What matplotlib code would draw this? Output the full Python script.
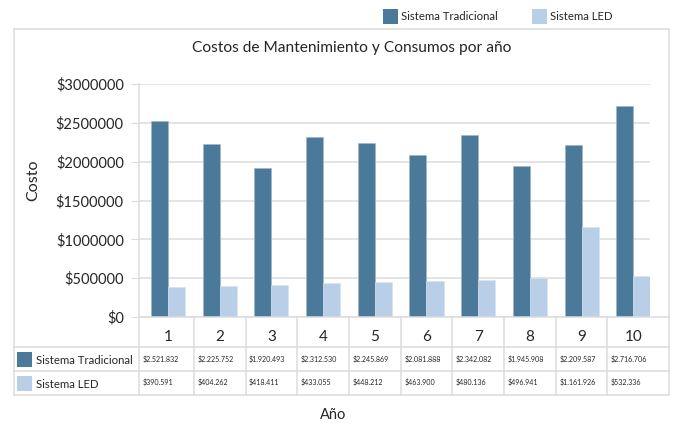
import matplotlib
matplotlib.use("Agg")
import matplotlib.pyplot as plt
from matplotlib.patches import Rectangle
from matplotlib.lines import Line2D
from matplotlib.ticker import FuncFormatter

# ---------------- data ----------------
years = ["1", "2", "3", "4", "5", "6", "7", "8", "9", "10"]
series_names = ["Sistema Tradicional", "Sistema LED"]
tradicional = [2521832, 2225752, 1920493, 2312530, 2245869,
               2081888, 2342082, 1945908, 2209587, 2716706]
led = [390591, 404262, 418411, 433055, 448212,
       463900, 480136, 496941, 1161926, 532336]
y_ticks = [0, 500000, 1000000, 1500000, 2000000, 2500000, 3000000]

title = "Costos de Mantenimiento y Consumos por año"
y_label = "Costo"
x_label = "Año"

# ---------------- style ----------------
C_TRAD = "#4b7999"
C_LED = "#b9cfe7"
C_GRID = "#dcdcdc"
C_TEXT = "#262626"
FONT = ["Lato", "DejaVu Sans"]
plt.rcParams["font.family"] = FONT

W, H = 673, 425
fig = plt.figure(figsize=(W / 100, H / 100), dpi=100)

def fx(px):
    return px / W

def fy(py):
    return 1 - py / H

# axes geometry (pixels)
ax_l, ax_r, ax_t, ax_b = 139, 650, 84, 317
ax = fig.add_axes([fx(ax_l), fy(ax_b), fx(ax_r - ax_l), (ax_b - ax_t) / H])

n = len(years)
pos = list(range(n))
bw = 0.33
ax.bar([p - bw / 2 for p in pos], tradicional, width=bw, color=C_TRAD,
       edgecolor="#9fb7cc", linewidth=0.4, label=series_names[0], zorder=3)
ax.bar([p + bw / 2 for p in pos], led, width=bw, color=C_LED,
       edgecolor="#d6e3f1", linewidth=0.4, label=series_names[1], zorder=3)

spacing = 51.7
c0 = 168
ax.set_xlim((ax_l - c0) / spacing, (ax_r - c0) / spacing)
ax.set_ylim(0, 3000000)
ax.set_yticks(y_ticks)
ax.yaxis.set_major_formatter(FuncFormatter(lambda v, p: f"${int(v)}"))
ax.tick_params(axis="y", length=6, color=C_GRID, labelsize=10.5,
               labelcolor=C_TEXT, pad=5)
ax.set_xticks(pos)
ax.set_xticklabels(years)
ax.tick_params(axis="x", length=0, labelsize=11, labelcolor=C_TEXT, pad=9.5)
ax.grid(axis="y", color=C_GRID, linewidth=1.1, zorder=0)
for s in ["top", "right", "bottom"]:
    ax.spines[s].set_visible(False)
ax.spines["left"].set_color(C_GRID)
ax.spines["left"].set_linewidth(1.1)
ax.set_facecolor("none")

fig.text(fx(33), fy(180), y_label, rotation=90, ha="center", va="center",
         fontsize=11.5, color=C_TEXT)
fig.text(fx(352), fy(48), title, ha="center", va="center",
         fontsize=11.2, color=C_TEXT)
fig.text(fx(333), fy(415), x_label, ha="center", va="center",
         fontsize=10.5, color=C_TEXT)

# ---------------- table & frame ----------------
box_l, box_r, box_t, box_b = 14, 669, 29, 395
row1, row2 = 346.5, 371

def hline(y, x0, x1):
    fig.add_artist(Line2D([fx(x0), fx(x1)], [fy(y), fy(y)],
                          color=C_GRID, linewidth=1.1))

def vline(x, y0, y1):
    fig.add_artist(Line2D([fx(x), fx(x)], [fy(y0), fy(y1)],
                          color=C_GRID, linewidth=1.1))

# outer box
hline(box_t, box_l, box_r)
hline(box_b, box_l, box_r)
vline(box_l, box_t, box_b)
vline(box_r, box_t, box_b)
hline(ax_b, ax_l, box_r)
hline(row1, box_l, box_r)
hline(row2, box_l, box_r)
vline(ax_l, ax_b, box_b)

bounds = [ax_l] + [c0 + spacing * (i + 0.5) for i in range(n - 1)] + [box_r]
for b in bounds[1:-1]:
    vline(b, ax_b, box_b)

def fmt(v):
    return "$" + f"{v:,}".replace(",", ".")

for i in range(n):
    fig.text(fx(bounds[i] + 3.5), fy(359), fmt(tradicional[i]), ha="left",
             va="center", fontsize=5.1, color=C_TEXT)
    fig.text(fx(bounds[i] + 3.5), fy(382), fmt(led[i]), ha="left",
             va="center", fontsize=5.1, color=C_TEXT)

for (y0, col, name) in [(352, C_TRAD, series_names[0]), (376, C_LED, series_names[1])]:
    fig.add_artist(Rectangle((fx(17), fy(y0 + 15)), fx(15), 15 / H,
                             facecolor=col, edgecolor="none"))
    fig.text(fx(36), fy(y0 + 8), name, ha="left", va="center",
             fontsize=8.2, color=C_TEXT)

# ---------------- top legend ----------------
for (x0, col, name) in [(383, C_TRAD, series_names[0]), (532, C_LED, series_names[1])]:
    fig.add_artist(Rectangle((fx(x0), fy(24)), fx(15), 15 / H,
                             facecolor=col, edgecolor="none"))
    fig.text(fx(x0 + 18), fy(16.5), name, ha="left", va="center",
             fontsize=8.2, color=C_TEXT)

fig.savefig("out.png", dpi=100)
